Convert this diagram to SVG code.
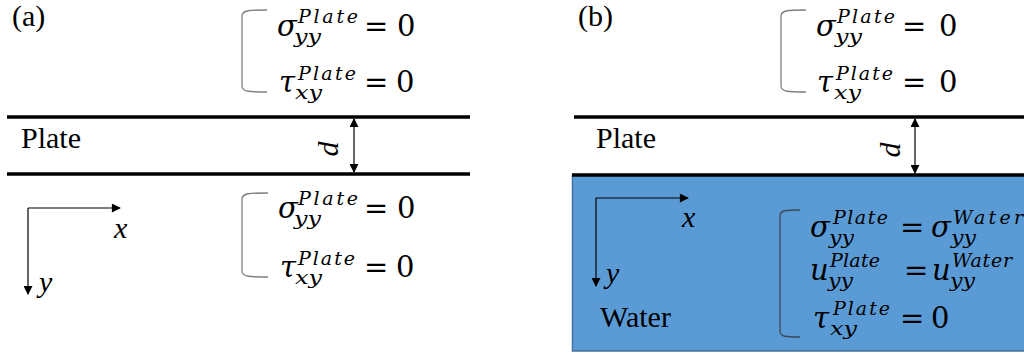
<svg xmlns="http://www.w3.org/2000/svg" width="1024" height="354" viewBox="0 0 1024 354">
<style>
.lbl{font-family:"Liberation Serif","Times New Roman",serif;font-size:30px;fill:#000}
.ax{font-family:"Liberation Serif","Times New Roman",serif;font-style:italic;font-size:30px;fill:#000}
.m{font-family:"DejaVu Serif",serif;font-style:italic;font-size:29px;fill:#000}
.s{font-family:"DejaVu Serif",serif;font-style:italic;font-size:19px;fill:#000}
.u{font-family:"DejaVu Serif",serif;font-size:29px;fill:#000}
.plate{stroke:#000;stroke-width:3.5;fill:none}
.br{stroke:#7f7f7f;stroke-width:1.3;fill:none}
.brd{stroke:#3c4a5a;stroke-width:1.3;fill:none}
.arr{stroke:#000;stroke-width:1.2;fill:none}
</style>
<defs>
<marker id="ah" viewBox="0 0 10 10" refX="9" refY="5" markerWidth="9" markerHeight="9" markerUnits="userSpaceOnUse" orient="auto-start-reverse">
<path d="M0,0 L10,5 L0,10 Z" fill="#000"/>
</marker>
<marker id="ah2" viewBox="0 0 10 10" refX="9" refY="5" markerWidth="11" markerHeight="9" markerUnits="userSpaceOnUse" orient="auto">
<path d="M0,0 L10,5 L0,10 Z" fill="#000"/>
</marker>
</defs>
<rect x="0" y="0" width="1024" height="354" fill="#fff"/>

<g id="water">
<rect x="572.5" y="175" width="460" height="176" fill="#5B9BD5" stroke="#41719C" stroke-width="1.5"/>
<text class="lbl" x="600" y="327">Water</text>
</g>

<g id="panel-a">
<text class="lbl" x="12" y="26">(a)</text>
<g id="plate-a">
<line class="plate" x1="7" y1="117" x2="470" y2="117"/>
<line class="plate" x1="7" y1="174" x2="470" y2="174"/>
<text class="lbl" x="21" y="148">Plate</text>
<text class="ax" transform="translate(327,149) rotate(-90)" text-anchor="middle" dominant-baseline="central">d</text>
</g>
<g id="bc-a-top">
<path class="br" d="M267,10 C250,10 242,10 242,16 L242,86 C242,92 250,92 267,92"/>
<text class="m" x="277" y="36">σ</text><text class="s" x="298" y="23" textLength="60" lengthAdjust="spacing">Plate</text><text class="s" x="294" y="43" textLength="27" lengthAdjust="spacingAndGlyphs">yy</text>
<text class="u" x="364" y="36">=</text><text class="u" x="397" y="36">0</text>
<text class="m" x="279" y="92">τ</text><text class="s" x="298" y="80" textLength="58" lengthAdjust="spacing">Plate</text><text class="s" x="295" y="99" textLength="27" lengthAdjust="spacingAndGlyphs">xy</text>
<text class="u" x="364" y="92">=</text><text class="u" x="396" y="92">0</text>
</g>
<g id="bc-a-bottom">
<path class="br" d="M268,193 C250,193 242,193 242,199 L242,271 C242,277 250,277 268,277"/>
<text class="m" x="278" y="218">σ</text><text class="s" x="298" y="205" textLength="60" lengthAdjust="spacing">Plate</text><text class="s" x="294" y="225" textLength="27" lengthAdjust="spacingAndGlyphs">yy</text>
<text class="u" x="364" y="218">=</text><text class="u" x="397" y="218">0</text>
<text class="m" x="280" y="277">τ</text><text class="s" x="298" y="265" textLength="57" lengthAdjust="spacing">Plate</text><text class="s" x="295" y="284" textLength="27" lengthAdjust="spacingAndGlyphs">xy</text>
<text class="u" x="364" y="277">=</text><text class="u" x="396" y="277">0</text>
</g>
<g id="axes-a">
<text class="ax" x="114" y="238">x</text>
<text class="ax" x="39" y="292">y</text>
</g>
</g>

<g id="panel-b">
<text class="lbl" x="578" y="26">(b)</text>
<g id="plate-b">
<line class="plate" x1="574" y1="117" x2="1024" y2="117"/>
<line class="plate" x1="572" y1="175" x2="1024" y2="175"/>
<text class="lbl" x="596" y="148">Plate</text>
<text class="ax" transform="translate(889,150) rotate(-90)" text-anchor="middle" dominant-baseline="central">d</text>
</g>
<g id="bc-b-top">
<path class="br" d="M806,10 C789,10 781,10 781,16 L781,86 C781,92 789,92 806,92"/>
<text class="m" x="816" y="36">σ</text><text class="s" x="837" y="23" textLength="58" lengthAdjust="spacing">Plate</text><text class="s" x="835" y="43" textLength="27" lengthAdjust="spacingAndGlyphs">yy</text>
<text class="u" x="902" y="36">=</text><text class="u" x="939" y="36">0</text>
<text class="m" x="817" y="92">τ</text><text class="s" x="836" y="80" textLength="57" lengthAdjust="spacing">Plate</text><text class="s" x="834" y="99" textLength="27" lengthAdjust="spacingAndGlyphs">xy</text>
<text class="u" x="902" y="92">=</text><text class="u" x="939" y="92">0</text>
</g>
<g id="bc-b-bottom">
<path class="brd" d="M800,210 C786,210 780,210 780,216 L780,331 C780,337 786,337 800,337"/>
<text class="m" x="810" y="237">σ</text><text class="s" x="833" y="224" textLength="55" lengthAdjust="spacing">Plate</text><text class="s" x="829" y="244" textLength="25" lengthAdjust="spacingAndGlyphs">yy</text>
<text class="u" x="900" y="237">=</text>
<text class="m" x="931" y="237">σ</text><text class="s" x="953" y="224" textLength="70" lengthAdjust="spacing">Water</text><text class="s" x="951" y="244" textLength="25" lengthAdjust="spacingAndGlyphs">yy</text>
<text class="m" x="810" y="280">u</text><text class="s" x="830" y="267" textLength="50" lengthAdjust="spacing">Plate</text><text class="s" x="828" y="287" textLength="25" lengthAdjust="spacingAndGlyphs">yy</text>
<text class="u" x="904" y="280">=</text>
<text class="m" x="932" y="280">u</text><text class="s" x="952" y="267" textLength="60" lengthAdjust="spacing">Water</text><text class="s" x="950" y="287" textLength="25" lengthAdjust="spacingAndGlyphs">yy</text>
<text class="m" x="813" y="328">τ</text><text class="s" x="833" y="315" textLength="57" lengthAdjust="spacing">Plate</text><text class="s" x="830" y="335" textLength="27" lengthAdjust="spacingAndGlyphs">xy</text>
<text class="u" x="900" y="328">=</text><text class="u" x="931" y="328">0</text>
</g>
<g id="axes-b">
<text class="ax" x="682" y="227">x</text>
<text class="ax" x="606" y="283">y</text>
</g>
</g>

<g id="connectors">
<line class="arr" x1="354" y1="119" x2="354" y2="172" marker-start="url(#ah)" marker-end="url(#ah)"/>
<line class="arr" x1="915" y1="119" x2="915" y2="173" marker-start="url(#ah)" marker-end="url(#ah)"/>
<line class="arr" x1="28" y1="208" x2="120" y2="208" marker-end="url(#ah2)"/>
<line class="arr" x1="28" y1="208" x2="28" y2="294" marker-end="url(#ah2)"/>
<line class="arr" x1="596" y1="198" x2="688" y2="198" marker-end="url(#ah2)"/>
<line class="arr" x1="596" y1="198" x2="596" y2="286" marker-end="url(#ah2)"/>
</g>
</svg>
